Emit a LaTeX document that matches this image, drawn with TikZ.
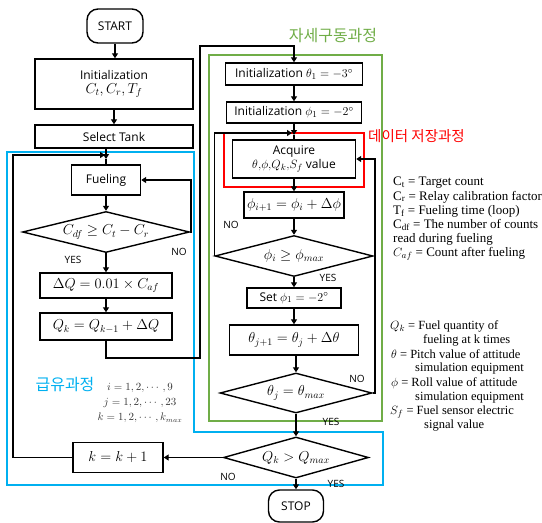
\documentclass[tikz,border=0pt]{standalone}
\usepackage{fontspec}
\usepackage{amsmath}
\setsansfont{Open Sans}
\newfontfamily\legendfont{Liberation Serif}
\newfontfamily\kr{Noto Sans CJK KR}
\usetikzlibrary{shapes.geometric,arrows.meta}
\definecolor{cblue}{RGB}{0,176,240}
\definecolor{cgreen}{RGB}{112,173,71}
\definecolor{cred}{RGB}{255,0,0}
\newcommand\mth[1]{{\fontsize{14}{16}\selectfont$#1$}}
\newcommand\mths[1]{{\fontsize{13}{15}\selectfont$#1$}}
\begin{document}
\begin{tikzpicture}[x=1pt,y=-1pt,
  every node/.style={font=\sffamily\fontsize{12}{14}\selectfont},
  box/.style={draw,line width=1.4pt,inner sep=0pt,align=center},
  dia/.style={draw,diamond,line width=1.4pt,inner sep=0pt,aspect=4},
  term/.style={draw,line width=1.4pt,rounded corners=11pt,inner sep=0pt},
  flow/.style={line width=1.4pt,-{Triangle[length=5pt,width=6pt]}},
  plain/.style={line width=1.4pt},
  lbl/.style={font=\sffamily\fontsize{10}{12}\selectfont,inner sep=0pt},
  leg/.style={anchor=west,inner sep=0pt,font=\legendfont\fontsize{13}{15}\selectfont},
  legb/.style={anchor=west,inner sep=0pt,font=\legendfont\fontsize{12.5}{14}\selectfont},
  frame/.style={line width=1.2pt},
]
\useasboundingbox (0,0) rectangle (542,523);

% coloured frames
\draw[frame,cblue] (7,152) -- (194,152) -- (194,432) -- (383,432) -- (383,485) -- (7,485) -- cycle;
\draw[frame,cgreen] (209,55) rectangle (382,421);
\draw[frame,cred] (224,133) rectangle (364,187);

% frame titles
\node[text=cgreen,font=\kr\fontsize{16}{18}\selectfont] (tg) at (333,36) {자세구동과정};
\node[text=cred,font=\kr\fontsize{14.5}{16}\selectfont,anchor=west,inner sep=0pt] (tr) at (368,136) {데이터 저장과정};
\node[text=cblue,font=\kr\fontsize{16}{18}\selectfont] (tb) at (65,385) {급유과정};

% left column
\node[term,minimum width=56pt,minimum height=34pt] (start) at (115,26) {START};
\node[box,minimum width=158pt,minimum height=50pt] (init) at (114,84) {Initialization\\\mth{C_t, C_r, T_f}};
\node[box,minimum width=158pt,minimum height=23pt] (sel) at (114,136.5) {Select Tank};
\node[box,minimum width=69pt,minimum height=30pt] (fuel) at (106,180) {Fueling};
\node[dia,minimum width=167pt,minimum height=41pt] (d1) at (106,232) {\mth{C_{df} \geq C_t - C_r}};
\node[box,minimum width=132pt,minimum height=25pt] (dq) at (106,285.5) {\mth{\Delta Q = 0.01 \times C_{af}}};
\node[box,minimum width=132pt,minimum height=27pt] (qk) at (106,326.5) {\mth{Q_k = Q_{k-1} + \Delta Q}};
\node[box,minimum width=90pt,minimum height=30pt] (kb) at (118,457.5) {\mth{k = k + 1}};

% right column
\node[box,minimum width=137pt,minimum height=22pt] (th1) at (294,74) {Initialization \mths{\theta_1 = -3^\circ}};
\node[box,minimum width=135pt,minimum height=21pt] (ph1) at (294,112.5) {Initialization \mths{\phi_1 = -2^\circ}};
\node[box,minimum width=123pt,minimum height=38pt] (acq) at (294,159) {Acquire\\\mths{\theta{,}\phi{,}Q_k{,}S_f} value};
\node[box,minimum width=100pt,minimum height=26pt] (phup) at (294,205) {\mth{\phi_{i+1} = \phi_i + \Delta\phi}};
\node[dia,minimum width=158pt,minimum height=41pt] (dphi) at (294,256) {\mth{\phi_i \geq \phi_{max}}};
\node[box,minimum width=94pt,minimum height=20pt] (setphi) at (294,298) {Set \mths{\phi_1 = -2^\circ}};
\node[box,minimum width=129pt,minimum height=30pt] (thup) at (294,340) {\mth{\theta_{j+1} = \theta_j + \Delta\theta}};
\node[dia,minimum width=152pt,minimum height=40pt] (dth) at (296,393) {\mth{\theta_j = \theta_{max}}};
\node[dia,minimum width=145pt,minimum height=41pt] (dq2) at (296,457.5) {\mth{Q_k > Q_{max}}};
\node[term,minimum width=55pt,minimum height=32pt] (stop) at (296,506) {STOP};

% helper coordinates
\coordinate (j1) at (106,159);
\coordinate (lj) at (105,155);
\coordinate (L) at (13,155);
\coordinate (r1) at (191,180);
\coordinate (c1) at (200,358);
\coordinate (c2) at (200,46);
\coordinate (j2) at (294,135);
\coordinate (j2l) at (292,133);
\coordinate (r2) at (375,159);

% left connectors
\draw[flow] (start.south) -- (start.south |- init.north);
\draw[flow] (init.south -| sel.north) -- (sel.north);
\draw[flow] (sel.south -| fuel.north) -- (j1);
\draw[plain] (j1) -- (fuel.north);
\draw[flow] (kb.west) -| (L) -- (lj);
\draw[flow] (fuel.south) -- (d1.north);
\draw[flow] (d1.east) -| (r1) -- (fuel.east);
\draw[flow] (d1.south) -- (dq.north);
\draw[flow] (dq.south) -- (qk.north);
\draw[flow] (qk.south) |- (c1) -- (c2) -| (th1.north);

% right connectors
\draw[flow] (th1.south) -- (ph1.north);
\draw[flow] (ph1.south) -- (j2);
\draw[plain] (j2) -- (acq.north);
\draw[flow] (acq.south) -- (phup.north);
\draw[flow] (phup.south) -- (dphi.north);
\draw[flow] (dphi.west) |- (j2l);
\draw[flow] (dphi.south) -- (setphi.north);
\draw[flow] (setphi.south) -- (thup.north);
\draw[flow] (thup.south -| dth.north) -- (dth.north);
\draw[flow] (dth.east) -| (r2) -- (acq.east);
\draw[flow] (dth.south) -- (dq2.north);
\draw[flow] (dq2.west) -- (kb.east);
\draw[flow] (dq2.south) -- (stop.north);

% yes/no labels
\node[lbl] (n1) at (179,252) {NO};
\node[lbl] (y1) at (73,260) {YES};
\node[lbl] (n2) at (231,225) {NO};
\node[lbl] (y2) at (328,278) {YES};
\node[lbl] (n3) at (357,379) {NO};
\node[lbl] (y3) at (331,422) {YES};
\node[lbl] (n4) at (228,477) {NO};
\node[lbl] (y4) at (336,484) {YES};

% index ranges
\node[align=center,text=black!80,font=\fontsize{10.5}{15}\selectfont] (eqs) at (140,403) {$i = 1,2,\cdots,9$\\$j = 1,2,\cdots,23$\\$k = 1,2,\cdots,k_{max}$};

% legend
\node[leg] (l1) at (393,183) {C\textsubscript{t} = Target count};
\node[leg] (l2) at (393,197) {C\textsubscript{r} = Relay calibration factor};
\node[leg] (l3) at (393,211) {T\textsubscript{f} = Fueling time (loop)};
\node[leg] (l4) at (393,225) {C\textsubscript{df} = The number of counts};
\node[leg] (l5) at (393,239) {read during fueling};
\node[leg] (l6) at (393,254) {$C_{af}$ = Count after fueling};
\node[legb] (l7) at (390,326) {$Q_k$ = Fuel quantity of};
\node[legb] (l8) at (423,340) {fueling at k times};
\node[legb] (l9) at (391,354) {$\theta$ = Pitch value of attitude};
\node[legb] (l10) at (415,368) {simulation equipment};
\node[legb] (l11) at (391,383) {$\phi$ = Roll value of attitude};
\node[legb] (l12) at (415,397) {simulation equipment};
\node[legb] (l13) at (390,412) {$S_f$ = Fuel sensor electric};
\node[legb] (l14) at (424,426) {signal value};
\end{tikzpicture}
\end{document}
